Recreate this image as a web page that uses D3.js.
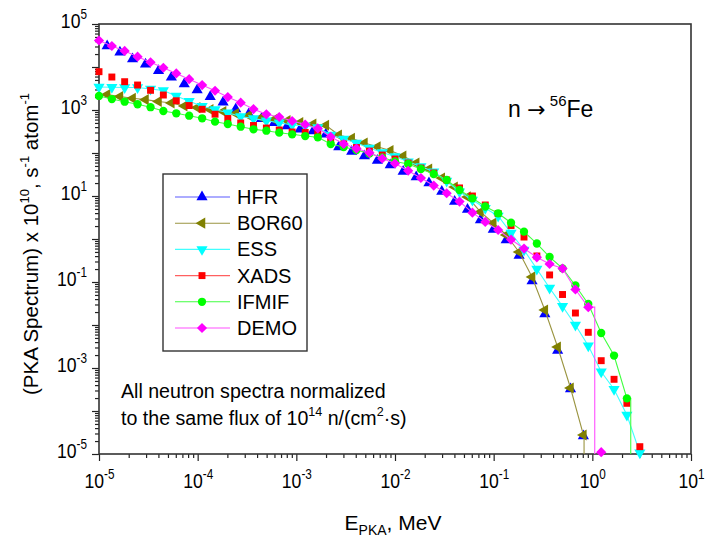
<!DOCTYPE html>
<html>
<head>
<meta charset="utf-8">
<script src="https://cdn.jsdelivr.net/npm/d3@7"></script>
<style>
  body { margin: 0; background: #fff; }
  svg { display: block; }
  text { font-family: "Liberation Sans", Arial, sans-serif; fill: #000; }
</style>
</head>
<body>
<svg id="chart" width="708" height="537"></svg>
<script>
// PKA energy grids (MeV) on which the symbols are placed
const energyA = [1.00e-5, 1.35e-5, 1.82e-5, 2.46e-5, 3.33e-5, 4.49e-5, 6.07e-5, 8.20e-5,
  1.11e-4, 1.50e-4, 2.02e-4, 2.73e-4, 3.68e-4, 4.97e-4, 6.71e-4, 9.07e-4,
  1.23e-3, 1.65e-3, 2.23e-3, 3.02e-3, 4.07e-3, 5.50e-3, 7.43e-3,
  1.00e-2, 1.36e-2, 1.83e-2, 2.47e-2, 3.34e-2, 4.51e-2, 6.09e-2, 8.22e-2,
  0.111, 0.150, 0.203, 0.274, 0.369, 0.499, 0.674, 0.910, 1.23, 1.66, 2.24, 3.03];
const energyB = [1.21e-5, 1.63e-5, 2.19e-5, 2.96e-5, 4.01e-5, 5.41e-5, 7.31e-5, 9.88e-5,
  1.34e-4, 1.81e-4, 2.43e-4, 3.29e-4, 4.43e-4, 5.99e-4, 8.09e-4, 1.09e-3,
  1.48e-3, 1.99e-3, 2.69e-3, 3.64e-3, 4.90e-3, 6.63e-3, 8.95e-3,
  1.21e-2, 1.64e-2, 2.21e-2, 2.98e-2, 4.02e-2, 5.43e-2, 7.34e-2, 9.91e-2,
  0.134, 0.181, 0.245, 0.330, 0.445, 0.601, 0.812];

// PKA spectra, x 1e10 s^-1 atom^-1
const hfr = [3.08e4, 2.20e4, 1.53e4, 1.16e4, 8.2e3, 5.75e3, 4.03e3, 2.92e3, 2.04e3, 1.51e3,
  1.05e3, 807, 628, 507, 425, 356, 325, 272, 138, 108, 85, 67, 52.6, 37.2, 27.7, 20.0,
  12.7, 7.45, 4.85, 2.77, 1.66, 0.948, 0.413, 0.105, 0.0180, 2.55e-3, 3.25e-4, 2.62e-5];
const bor60 = [2.29e3, 2.06e3, 1.87e3, 1.74e3, 1.58e3, 1.46e3, 1.24e3, 1.14e3, 1.02e3, 923,
  830, 745, 670, 608, 564, 512, 472, 441, 262, 220, 171, 140, 114, 85, 58.5, 42.5,
  26.2, 16.2, 9.5, 4.25, 2.36, 1.24, 0.499, 0.131, 0.0223, 3.08e-3, 3.43e-4, 2.77e-5];
const ess = [3.43e3, 3.37e3, 3.34e3, 3.34e3, 3.08e3, 2.84e3, 2.12e3, 1.60e3, 1.22e3, 1.03e3,
  865, 706, 634, 564, 507, 448, 425, 392, 262, 212, 171, 131, 103, 83, 62.8, 48.5,
  36.7, 22.3, 12.6, 8.07, 5.18, 3.43, 1.38, 0.555, 0.200, 0.0725, 0.0272, 0.0100,
  3.30e-3, 8.2e-4, 3.20e-4, 8.07e-5, 1.07e-5];
const xads = [7.78e3, 5.85e3, 4.55e3, 3.81e3, 2.87e3, 2.23e3, 1.64e3, 1.27e3, 1.04e3, 798,
  634, 499, 436, 381, 343, 308, 300, 284, 200, 162, 134, 111, 89.8, 72.5, 58.5, 44.8,
  34.3, 23.6, 15.4, 10.0, 6.18, 3.92, 2.06, 1.11, 0.403, 0.146, 0.0512, 0.0190,
  6.76e-3, 1.48e-3, 5.46e-4, 1.51e-4, 1.48e-5];
const ifmif = [2.12e3, 1.80e3, 1.56e3, 1.36e3, 1.16e3, 948, 838, 736, 641, 535,
  472, 409, 356, 330, 297, 272, 248, 232, 162, 138, 117, 97.3, 78.5, 63.4, 55.5, 42.5,
  32.5, 23.6, 13.8, 8.85, 5.70, 3.96, 2.39, 1.48, 0.785, 0.381, 0.208, 0.0830,
  0.0308, 6.52e-3, 1.95e-3, 1.97e-4];
const demo = [4.13e4, 3.08e4, 2.36e4, 1.74e4, 1.29e4, 9.6e3, 7.1e3, 5.2e3, 3.8e3, 2.8e3,
  2.0e3, 1.48e3, 1.05e3, 794, 687, 555, 460, 372, 239, 162, 127, 102, 74.5, 57, 38.7,
  26.2, 17.5, 11.6, 7.4, 4.1, 2.5, 1.62, 0.97, 0.60, 0.375, 0.262, 0.206, 0.067, 0.026, 1.1e-5];

const seriesNames = ["HFR", "BOR60", "ESS", "XADS", "IFMIF", "DEMO"];
const xTickExponents = [-5, -4, -3, -2, -1, 0, 1];
const yTickExponents = [5, 4, 3, 2, 1, 0, -1, -2, -3, -4, -5];
const yLabelExponents = [5, 3, 1, -1, -3, -5];

// cutoff: how the spectrum line ends ("step" = last bin drawn as a step before the fall,
// "fall" = line falls straight after the last bin, extended by `tail` of a bin)
const series = [
  { name: seriesNames[0], energy: energyB, values: hfr,   color: "#0000ff", lineColor: "#5a5aff", symbol: "up",      line: false },
  { name: seriesNames[1], energy: energyB, values: bor60, color: "#808000", lineColor: "#9a9440", symbol: "left",    line: true, cutoff: "fall", tail: 0.05 },
  { name: seriesNames[2], energy: energyA, values: ess,   color: "#00ffff", lineColor: "#40ffff", symbol: "down",    line: true, cutoff: "fall", tail: 0.1 },
  { name: seriesNames[3], energy: energyA, values: xads,  color: "#ff0000", lineColor: "#ff6060", symbol: "square",  line: false },
  { name: seriesNames[4], energy: energyA, values: ifmif, color: "#00ff00", lineColor: "#40ff40", symbol: "circle",  line: true, cutoff: "fall", tail: 0.3 },
  { name: seriesNames[5], energy: energyA, values: demo,  color: "#ff00ff", lineColor: "#ff50ff", symbol: "diamond", line: true, cutoff: "step" }
];

const svg = d3.select("#chart");
const plot = { left: 99, right: 691, top: 24, bottom: 454 };

const x = d3.scaleLog().domain([1e-5, 10]).range([plot.left, plot.right]);
const y = d3.scaleLog().domain([1e-5, 1e5]).range([plot.bottom, plot.top]);

svg.append("defs").append("clipPath").attr("id", "plotClip")
  .append("rect")
  .attr("x", plot.left).attr("y", plot.top)
  .attr("width", plot.right - plot.left).attr("height", plot.bottom - plot.top);

// minor ticks at 2..9 of each decade
function minorTicks(lo, hi) {
  const t = [];
  for (let e = lo; e < hi; e++) for (let m = 2; m <= 9; m++) t.push(m * Math.pow(10, e));
  return t;
}

// tick labels are set in a slightly condensed face
const labelSqueeze = 0.84;
function supLabel(sel, exp, size, supSize, rise) {
  sel.text(null);
  sel.append("tspan").attr("font-size", size).text("10");
  sel.append("tspan").attr("font-size", supSize).attr("dy", -rise).text(String(exp));
}

// x axis
const xMinor = d3.axisBottom(x).tickValues(minorTicks(-5, 1)).tickSize(4).tickFormat("");
const xMajor = d3.axisBottom(x).tickValues(xTickExponents.map(e => Math.pow(10, e))).tickSize(7);
const gxMinor = svg.append("g").attr("transform", `translate(0,${plot.bottom})`).call(xMinor);
const gxMajor = svg.append("g").attr("transform", `translate(0,${plot.bottom})`).call(xMajor);
[gxMinor, gxMajor].forEach(g => {
  g.select(".domain").remove();
  g.selectAll(".tick line").attr("stroke", "#222").attr("stroke-width", 1.2);
});
gxMajor.selectAll(".tick text")
  .attr("y", 34).attr("dy", null).attr("x", 0)
  .attr("transform", `scale(${labelSqueeze},1)`)
  .each(function (d) { supLabel(d3.select(this), Math.round(Math.log10(d)), 21, 14, 9); });

// y axis
const yMinor = d3.axisLeft(y).tickValues(minorTicks(-5, 5)).tickSize(4).tickFormat("");
const yMajor = d3.axisLeft(y).tickValues(yTickExponents.map(e => Math.pow(10, e))).tickSize(7);
const gyMinor = svg.append("g").attr("transform", `translate(${plot.left},0)`).call(yMinor);
const gyMajor = svg.append("g").attr("transform", `translate(${plot.left},0)`).call(yMajor);
[gyMinor, gyMajor].forEach(g => {
  g.select(".domain").remove();
  g.selectAll(".tick line").attr("stroke", "#222").attr("stroke-width", 1.2);
});
gyMajor.selectAll(".tick text")
  .attr("x", -12 / labelSqueeze).attr("dy", "0.37em")
  .attr("transform", `scale(${labelSqueeze},1)`)
  .each(function (d) {
    const e = Math.round(Math.log10(d));
    if (yLabelExponents.includes(e)) supLabel(d3.select(this), e, 21, 14, 9);
    else d3.select(this).text(null);
  });

// plot frame
svg.append("rect")
  .attr("x", plot.left).attr("y", plot.top)
  .attr("width", plot.right - plot.left).attr("height", plot.bottom - plot.top)
  .attr("fill", "none").attr("stroke", "#333").attr("stroke-width", 1.6);

// symbol shapes
function symbolPath(kind) {
  switch (kind) {
    case "up":      return { d: d3.symbol(d3.symbolTriangle, 54)(), rot: 0 };
    case "left":    return { d: d3.symbol(d3.symbolTriangle, 54)(), rot: -90 };
    case "down":    return { d: d3.symbol(d3.symbolTriangle, 54)(), rot: 180 };
    case "square":  return { d: d3.symbol(d3.symbolSquare, 48)(), rot: 0 };
    case "circle":  return { d: d3.symbol(d3.symbolCircle, 54)(), rot: 0 };
    case "diamond": return { d: d3.symbol(d3.symbolSquare, 52)(), rot: 45 };
  }
}

const spectrumLine = d3.line()
  .x(d => x(d[0]))
  .y(d => y(d[1]));

// polyline through the bins, ending where the spectrum is cut off
function spectrumPath(s, pts) {
  const n = pts.length;
  const floor = y.domain()[0] / 10;
  const [ePrev, vPrev] = pts[n - 2];
  const [eLast, vLast] = pts[n - 1];
  let out;
  if (s.cutoff === "step") {
    // last bin lies on the floor: fall half-way between the last two bins
    const edge = Math.sqrt(ePrev * eLast);
    out = pts.slice(0, n - 1).concat([[edge, vPrev], [edge, floor]]);
  } else {
    const edge = eLast * Math.pow(eLast / ePrev, s.tail);
    out = pts.concat([[edge, vLast], [edge, floor]]);
  }
  return spectrumLine(out);
}

const dataLayer = svg.append("g");

series.forEach(s => {
  const pts = s.energy.slice(0, s.values.length).map((e, i) => [e, s.values[i]]);
  const g = dataLayer.append("g").attr("class", "series");
  if (s.line) {
    g.append("path")
      .attr("clip-path", "url(#plotClip)")
      .attr("d", spectrumPath(s, pts))
      .attr("fill", "none")
      .attr("stroke", s.lineColor)
      .attr("stroke-width", 1.1);
  }
  const sym = symbolPath(s.symbol);
  g.selectAll("path.mark")
    .data(pts.filter(p => p[1] >= y.domain()[0] * 0.999))
    .join("path")
    .attr("class", "mark")
    .attr("d", sym.d)
    .attr("transform", d => `translate(${x(d[0])},${y(d[1])}) rotate(${sym.rot})`)
    .attr("fill", s.color);
});

// legend
const legend = svg.append("g");
legend.append("rect")
  .attr("x", 163).attr("y", 174).attr("width", 144).attr("height", 177)
  .attr("fill", "#fff").attr("stroke", "#333").attr("stroke-width", 1.4);
series.forEach((s, i) => {
  const cy = 197 + i * 26.2;
  legend.append("line")
    .attr("x1", 175).attr("x2", 230).attr("y1", cy).attr("y2", cy)
    .attr("stroke", s.lineColor).attr("stroke-width", 1.1);
  const sym = symbolPath(s.symbol);
  legend.append("path")
    .attr("d", sym.d)
    .attr("transform", `translate(202,${cy}) rotate(${sym.rot})`)
    .attr("fill", s.color);
  legend.append("text")
    .attr("x", 237).attr("y", cy + 7)
    .attr("font-size", 20)
    .text(s.name);
});

// reaction label
const react = svg.append("text").attr("x", 508).attr("y", 117).attr("font-size", 23);
react.append("tspan").text("n ");
react.append("tspan").attr("font-family", "DejaVu Sans").attr("font-size", 22).text("\u2192");
react.append("tspan").attr("font-size", 15).attr("dy", -11).text(" 56");
react.append("tspan").attr("dy", 11).text("Fe");

// normalisation note
svg.append("text").attr("x", 121).attr("y", 398).attr("font-size", 19.6)
  .text("All neutron spectra normalized");
const note = svg.append("text").attr("x", 121).attr("y", 425).attr("font-size", 19.6);
note.append("tspan").text("to the same flux of 10");
note.append("tspan").attr("font-size", 12.5).attr("dy", -9).text("14");
note.append("tspan").attr("dy", 9).text(" n/(cm");
note.append("tspan").attr("font-size", 12.5).attr("dy", -9).text("2");
note.append("tspan").attr("dy", 9).text("\u00b7s)");

// axis titles
const xTitle = svg.append("text").attr("x", 393).attr("y", 530)
  .attr("text-anchor", "middle").attr("font-size", 21);
xTitle.append("tspan").text("E");
xTitle.append("tspan").attr("font-size", 14).attr("dy", 5).text("PKA");
xTitle.append("tspan").attr("dy", -5).text(", MeV");

const yTitle = svg.append("text")
  .attr("transform", "translate(38,244) rotate(-90)")
  .attr("text-anchor", "middle").attr("font-size", 20.5);
yTitle.append("tspan").text("(PKA Spectrum) x 10");
yTitle.append("tspan").attr("font-size", 13).attr("dy", -9).text("10");
yTitle.append("tspan").attr("dy", 9).text(", s");
yTitle.append("tspan").attr("font-size", 13).attr("dy", -9).text("-1");
yTitle.append("tspan").attr("dy", 9).text(" atom");
yTitle.append("tspan").attr("font-size", 13).attr("dy", -9).text("-1");
</script>
</body>
</html>
